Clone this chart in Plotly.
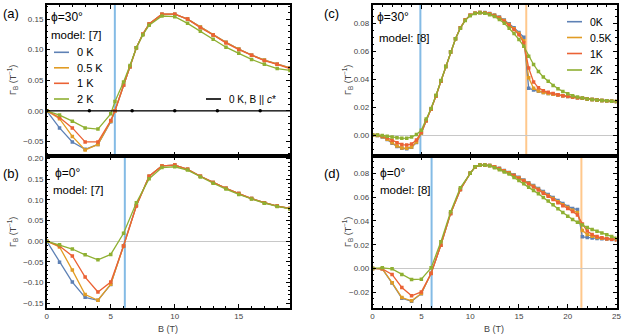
import plotly.graph_objects as go

""" DATA
Gamma_B (T^-1) versus field B (T), read off the four panels.
"""
temps = ["0 K", "0.5 K", "1 K", "2 K"]
colors = ["#5E81B5", "#E19C24", "#EB6235", "#8FB032"]

# (a) phi = 30 deg, model [7]
b_a = [0, 1, 2, 3, 4, 5, 5.33, 6, 6.5, 7, 7.5, 8, 9, 10, 11, 12, 13, 14, 15, 16, 17, 18, 19]
a_0K = [0, -0.028, -0.051, -0.063, -0.055, -0.018, 0.0, 0.042, 0.072, 0.103, 0.125, 0.142, 0.158, 0.158, 0.150, 0.137, 0.124, 0.112, 0.101, 0.091, 0.083, 0.076, 0.070]
a_05K = [0, -0.013, -0.042, -0.064, -0.055, -0.017, 0.0, 0.042, 0.072, 0.103, 0.125, 0.142, 0.158, 0.158, 0.150, 0.137, 0.124, 0.112, 0.101, 0.091, 0.083, 0.076, 0.070]
a_1K = [0, -0.011, -0.028, -0.051, -0.051, -0.016, 0.0, 0.042, 0.072, 0.103, 0.125, 0.142, 0.158, 0.158, 0.150, 0.136, 0.124, 0.111, 0.100, 0.091, 0.082, 0.076, 0.069]
a_2K = [0, -0.007, -0.017, -0.028, -0.030, -0.005, 0.015, 0.047, 0.074, 0.103, 0.124, 0.140, 0.155, 0.154, 0.143, 0.130, 0.117, 0.104, 0.094, 0.084, 0.076, 0.069, 0.066]
b_cstar = [0, 3.33, 6.67, 10, 13.33, 16.67, 20]
a_cstar = [0, 0, 0, 0, 0, 0, 0]

# (b) phi = 0 deg, model [7]
b_b = [0, 1, 2, 3, 4, 5, 6, 7, 8, 9, 10, 11, 12, 13, 14, 15, 16, 17, 18, 19]
b_0K = [0, -0.051, -0.099, -0.136, -0.143, -0.105, -0.012, 0.086, 0.157, 0.182, 0.184, 0.174, 0.157, 0.142, 0.128, 0.115, 0.103, 0.093, 0.085, 0.079]
b_05K = [0, -0.014, -0.070, -0.129, -0.143, -0.104, -0.012, 0.086, 0.157, 0.182, 0.184, 0.174, 0.157, 0.142, 0.128, 0.115, 0.103, 0.093, 0.085, 0.079]
b_1K = [0, -0.012, -0.036, -0.087, -0.123, -0.099, -0.012, 0.085, 0.157, 0.182, 0.184, 0.174, 0.157, 0.142, 0.128, 0.115, 0.103, 0.093, 0.085, 0.079]
b_2K = [0, -0.009, -0.019, -0.033, -0.045, -0.032, 0.019, 0.093, 0.151, 0.178, 0.180, 0.172, 0.155, 0.140, 0.126, 0.113, 0.102, 0.092, 0.084, 0.078]

# (c) phi = 30 deg, model [8]
b_c = [0, 0.5, 1, 1.5, 2, 2.5, 3, 3.5, 4, 4.5, 5, 5.5, 6, 6.5, 7, 7.5, 8, 8.5, 9, 9.5,
       10, 10.5, 11, 11.5, 12, 12.5, 13, 13.5, 14, 14.5, 15, 15.5, 16, 16.5, 17, 17.5,
       18, 18.5, 19, 19.5, 20, 20.5, 21, 21.5, 22, 22.5, 23, 23.5, 24, 24.5, 25]
c_0K = [0, -0.0003, -0.0013, -0.0032, -0.0058, -0.0081, -0.0095, -0.0098, -0.0088, -0.0053,
        0.0013, 0.0103, 0.0185, 0.0280, 0.0385, 0.0490, 0.0595, 0.0690, 0.0768, 0.0823,
        0.0857, 0.0872, 0.0877, 0.0877, 0.0871, 0.0860, 0.0845, 0.0824, 0.0797, 0.0768,
        0.0735, 0.0700, 0.0335, 0.0322, 0.0313, 0.0305, 0.0298, 0.0292, 0.0286, 0.0281,
        0.0276, 0.0272, 0.0268, 0.0263, 0.0258, 0.0255, 0.0251, 0.0248, 0.0245, 0.0242, 0.0240]
c_05K = [0, -0.0003, -0.0012, -0.0030, -0.0055, -0.0078, -0.0092, -0.0095, -0.0085, -0.0050,
         0.0015, 0.0103, 0.0185, 0.0280, 0.0385, 0.0490, 0.0595, 0.0690, 0.0768, 0.0823,
         0.0857, 0.0872, 0.0877, 0.0876, 0.0869, 0.0857, 0.0842, 0.0820, 0.0792, 0.0762,
         0.0728, 0.0675, 0.0410, 0.0335, 0.0315, 0.0305, 0.0298, 0.0292, 0.0286, 0.0281,
         0.0276, 0.0272, 0.0268, 0.0263, 0.0258, 0.0255, 0.0251, 0.0248, 0.0245, 0.0242, 0.0240]
c_1K = [0, -0.0002, -0.0008, -0.0020, -0.0038, -0.0055, -0.0068, -0.0072, -0.0064, -0.0035,
        0.0020, 0.0105, 0.0185, 0.0280, 0.0385, 0.0490, 0.0595, 0.0690, 0.0768, 0.0823,
        0.0857, 0.0872, 0.0877, 0.0875, 0.0867, 0.0855, 0.0838, 0.0815, 0.0787, 0.0755,
        0.0718, 0.0660, 0.0480, 0.0380, 0.0338, 0.0318, 0.0306, 0.0297, 0.0289, 0.0282,
        0.0277, 0.0273, 0.0268, 0.0263, 0.0258, 0.0255, 0.0251, 0.0248, 0.0245, 0.0242, 0.0240]
c_2K = [0, 0.0000, -0.0003, -0.0008, -0.0013, -0.0019, -0.0023, -0.0022, -0.0014, 0.0004,
        0.0035, 0.0115, 0.0190, 0.0285, 0.0390, 0.0490, 0.0595, 0.0690, 0.0765, 0.0820,
        0.0855, 0.0870, 0.0875, 0.0872, 0.0862, 0.0848, 0.0828, 0.0800, 0.0765, 0.0728,
        0.0685, 0.0635, 0.0565, 0.0505, 0.0455, 0.0415, 0.0385, 0.0355, 0.0332, 0.0312,
        0.0295, 0.0282, 0.0272, 0.0265, 0.0259, 0.0255, 0.0251, 0.0248, 0.0245, 0.0242, 0.0240]

# (d) phi = 0 deg, model [8]
b_d = [0, 1, 2, 3, 4, 5, 6, 7, 8, 9, 10, 10.5, 11, 11.5, 12, 12.5, 13, 13.5, 14, 14.5,
       15, 15.5, 16, 16.5, 17, 17.5, 18, 18.5, 19, 19.5, 20, 20.5, 21, 21.5, 22, 22.5,
       23, 23.5, 24, 24.5, 25]
d_0K = [0, -0.0003, -0.0123, -0.0250, -0.0276, -0.0212, -0.0040, 0.0196, 0.0463, 0.0665, 0.0800,
        0.0853, 0.0870, 0.0871, 0.0867, 0.0856, 0.0842, 0.0825, 0.0808, 0.0788, 0.0767,
        0.0745, 0.0722, 0.0698, 0.0673, 0.0648, 0.0622, 0.0597, 0.0571, 0.0546, 0.0522,
        0.0505, 0.0495, 0.0266, 0.0260, 0.0256, 0.0253, 0.0250, 0.0247, 0.0244, 0.0242]
d_05K = [0, -0.0003, -0.0120, -0.0245, -0.0272, -0.0210, -0.0040, 0.0196, 0.0463, 0.0665, 0.0800,
         0.0853, 0.0870, 0.0871, 0.0867, 0.0855, 0.0840, 0.0823, 0.0805, 0.0784, 0.0763,
         0.0740, 0.0716, 0.0691, 0.0666, 0.0640, 0.0614, 0.0588, 0.0562, 0.0537, 0.0513,
         0.0490, 0.0470, 0.0320, 0.0285, 0.0270, 0.0261, 0.0254, 0.0249, 0.0245, 0.0242]
d_1K = [0, -0.0003, -0.0050, -0.0160, -0.0230, -0.0197, -0.0042, 0.0196, 0.0463, 0.0665, 0.0800,
        0.0853, 0.0870, 0.0871, 0.0866, 0.0853, 0.0838, 0.0820, 0.0802, 0.0780, 0.0758,
        0.0735, 0.0710, 0.0685, 0.0660, 0.0633, 0.0607, 0.0580, 0.0553, 0.0528, 0.0505,
        0.0480, 0.0450, 0.0375, 0.0315, 0.0285, 0.0268, 0.0258, 0.0251, 0.0246, 0.0242]
d_2K = [0, 0.0005, -0.0003, -0.0050, -0.0093, -0.0090, 0.0005, 0.0224, 0.0477, 0.0680, 0.0800,
        0.0855, 0.0870, 0.0870, 0.0864, 0.0848, 0.0830, 0.0812, 0.0794, 0.0766, 0.0740,
        0.0712, 0.0684, 0.0655, 0.0628, 0.0598, 0.0568, 0.0535, 0.0502, 0.0470, 0.0440,
        0.0412, 0.0388, 0.0365, 0.0345, 0.0328, 0.0313, 0.0298, 0.0283, 0.0268, 0.0255]

# transition fields (vertical markers)
blue_lines = {"x": 5.32, "x2": 6.1, "x3": 4.9, "x4": 6.05}
orange_lines = {"x3": 15.75, "x4": 21.4}

panels = [
    ("x", "y", b_a, [a_0K, a_05K, a_1K, a_2K]),
    ("x2", "y2", b_b, [b_0K, b_05K, b_1K, b_2K]),
    ("x3", "y3", b_c, [c_0K, c_05K, c_1K, c_2K]),
    ("x4", "y4", b_d, [d_0K, d_05K, d_1K, d_2K]),
]

FONT = "Liberation Sans"
W, H = 623, 335
fig = go.Figure()

for xa, ya, bx, series in panels:
    for name, col, vals in zip(temps, colors, series):
        fig.add_trace(go.Scatter(
            x=bx, y=vals, xaxis=xa, yaxis=ya, mode="lines+markers", showlegend=False,
            line=dict(color=col, width=1.3), marker=dict(color=col, size=3.5, symbol="square"),
            name=name))

fig.add_trace(go.Scatter(x=b_cstar, y=a_cstar, xaxis="x", yaxis="y", mode="lines+markers",
                         line=dict(color="black", width=1.2), marker=dict(color="black", size=3.5),
                         showlegend=False, name="0 K, B || c*"))

for xa, bval in blue_lines.items():
    fig.add_shape(type="line", xref=xa, yref=xa.replace("x", "y") + " domain", x0=bval, x1=bval,
                  y0=0, y1=1, line=dict(color="rgba(110,175,225,0.85)", width=2), layer="below")
for xa, bval in orange_lines.items():
    fig.add_shape(type="line", xref=xa, yref=xa.replace("x", "y") + " domain", x0=bval, x1=bval,
                  y0=0, y1=1, line=dict(color="rgba(255,190,120,0.85)", width=2), layer="below")

left = [0.075, 0.4655]
right = [0.598, 0.9896]
top = [0.5343, 0.985]
bottom = [0.0815, 0.5343]

common = dict(showline=True, linecolor="black", linewidth=1.5, mirror="ticks",
              ticks="inside", ticklen=4, tickwidth=1, tickcolor="black", automargin=False,
              showgrid=False, tickfont=dict(family=FONT, size=8, color="#444"))


def xax(dom, rng, anchor, labels):
    return dict(common, domain=dom, range=rng, anchor=anchor, dtick=5, tick0=0,
                showticklabels=labels, zeroline=False,
                minor=dict(ticks="inside", ticklen=2, dtick=1, tickcolor="black"))


def yax(dom, rng, anchor, dt, mdt):
    return dict(common, domain=dom, range=rng, anchor=anchor, dtick=dt, tick0=0,
                tickformat=".2f", zeroline=True, zerolinecolor="#c8c8c8", zerolinewidth=1,
                minor=dict(ticks="inside", ticklen=2, dtick=mdt, tickcolor="black"))


fig.update_layout(
    width=W, height=H, margin=dict(l=0, r=0, t=0, b=0),
    paper_bgcolor="white", plot_bgcolor="white", showlegend=False,
    font=dict(family=FONT, size=11, color="black"),
    xaxis=xax(left, [0, 19], "y", False),
    yaxis=yax(top, [-0.074, 0.173], "x", 0.05, 0.01),
    xaxis2=xax(left, [0, 19], "y2", True),
    yaxis2=yax(bottom, [-0.161, 0.206], "x2", 0.05, 0.01),
    xaxis3=xax(right, [0, 25], "y3", False),
    yaxis3=yax(top, [-0.015, 0.0931], "x3", 0.02, 0.005),
    xaxis4=xax(right, [0, 25], "y4", True),
    yaxis4=yax(bottom, [-0.033, 0.0946], "x4", 0.02, 0.005),
)


def px_x(v):
    return v / W


def px_y(v):
    return 1 - v / H


# hand-drawn legends (short line samples, as in the original)
def legend_block(x0, rows, names, cols, size):
    for yy, nm, col in zip(rows, names, cols):
        fig.add_shape(type="line", xref="paper", yref="paper", x0=px_x(x0), x1=px_x(x0 + 15),
                      y0=px_y(yy), y1=px_y(yy), line=dict(color=col, width=1.6))
        fig.add_annotation(text=nm, xref="paper", yref="paper", x=px_x(x0 + 21), y=px_y(yy),
                           xanchor="left", yanchor="middle", showarrow=False,
                           font=dict(family=FONT, size=size, color="black"))


legend_block(54, [52.3, 67.8, 83.3, 99], temps, colors, 11)
legend_block(206, [99], ["0 K, B || <i>c</i>*"], ["black"], 10)
legend_block(567, [21.7, 37.5, 53.5, 70], [t.replace(" ", "") for t in temps], colors, 10.5)

notes = [
    ("(a)", 1, 14, 13), ("(b)", 1, 173, 13), ("(c)", 322, 14, 13), ("(d)", 322, 173, 13),
    ("ϕ=30°", 49, 17, 12), ("model: [7]", 49, 35, 11.5),
    ("ϕ=0°", 53, 173, 12), ("model: [7]", 51, 190, 11.5),
    ("ϕ=30°", 375, 17, 12), ("model: [8]", 377, 38, 11.5),
    ("ϕ=0°", 378, 173, 12), ("model: [8]", 378, 190, 11.5),
]
for txt, xx, yy, size in notes:
    fig.add_annotation(text=txt, xref="paper", yref="paper", x=px_x(xx), y=px_y(yy),
                       xanchor="left", yanchor="middle", showarrow=False,
                       font=dict(family=FONT, size=size, color="black"))

ytitle = "Γ<sub>B</sub> (T<sup>−1</sup>)"
for xx, yy in [(12, 80), (12, 232), (347, 80), (347, 232)]:
    fig.add_annotation(text=ytitle, xref="paper", yref="paper", x=px_x(xx), y=px_y(yy),
                       textangle=-90, showarrow=False, xanchor="center", yanchor="middle",
                       font=dict(family=FONT, size=9, color="#444"))
for xx in [168, 494]:
    fig.add_annotation(text="B (T)", xref="paper", yref="paper", x=px_x(xx), y=px_y(329),
                       showarrow=False, xanchor="center", yanchor="middle",
                       font=dict(family=FONT, size=9, color="#444"))

# the page's default body margin would shift the 623x335 figure out of the window
fig.write_html("out.html", config={"displayModeBar": False},
               post_script="document.body.style.margin='0px';")
